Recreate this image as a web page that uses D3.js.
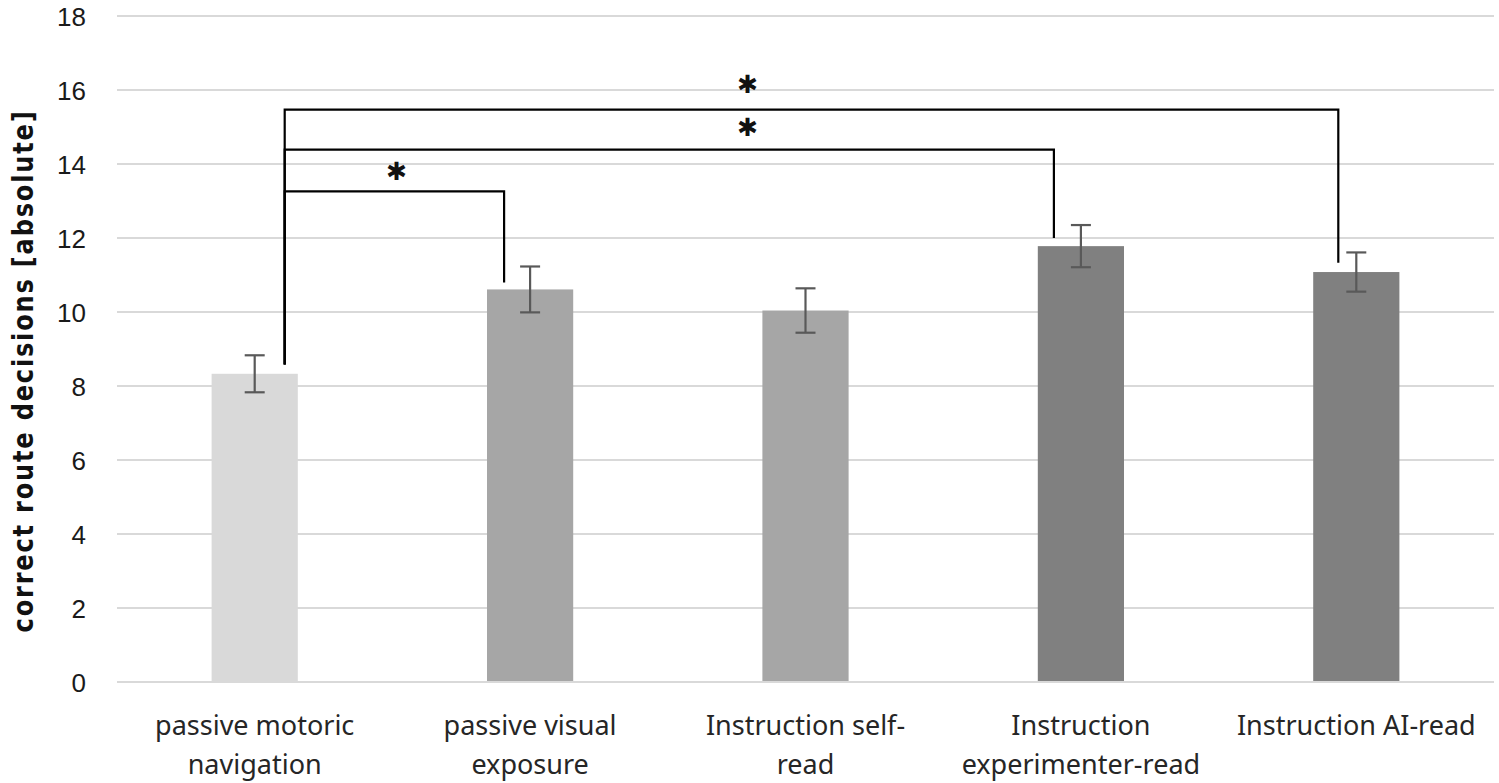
<!DOCTYPE html>
<html><head><meta charset="utf-8">
<script src="https://cdn.jsdelivr.net/npm/d3@7"></script>
<style>body{margin:0;background:#fff;}svg{display:block;}</style>
</head><body>
<svg id="chart" width="1499" height="783"></svg>
<script>
const categories = [
  ["passive motoric", "navigation"],
  ["passive visual", "exposure"],
  ["Instruction self-", "read"],
  ["Instruction", "experimenter-read"],
  ["Instruction AI-read"]
];
const means = [8.33, 10.61, 10.04, 11.78, 11.08];
const errors = [0.5, 0.62, 0.6, 0.57, 0.53];
const barColors = ["#d9d9d9", "#a6a6a6", "#a6a6a6", "#808080", "#808080"];
const yTicks = [0, 2, 4, 6, 8, 10, 12, 14, 16, 18];
// significance brackets: from category index, to category index, bracket level, left/right drop ends
const sigFrom = [0, 0, 0];
const sigTo = [1, 3, 4];
const sigLevel = [13.26, 14.39, 15.47];
const sigLeftEnd = [8.58, 8.58, 8.58];
const sigRightEnd = [10.8, 12.0, 11.33];
const sigLabel = ["✱", "✱", "✱"];

const svg = d3.select("#chart");
const mLeft = 117, mRight = 1494, mTop = 16, mBottom = 682;
const x = d3.scaleBand().domain(d3.range(categories.length)).range([mLeft, mRight]).paddingInner(0.687).paddingOuter(0.3435);
const y = d3.scaleLinear().domain([0, 18]).range([mBottom, mTop]);

// gridlines
svg.append("g").selectAll("line").data(yTicks).join("line")
  .attr("x1", mLeft).attr("x2", mRight)
  .attr("y1", d => y(d)).attr("y2", d => y(d))
  .attr("stroke", "#d9d9d9").attr("stroke-width", 2);

// y axis labels
const yAxis = d3.axisLeft(y).tickValues(yTicks).tickSize(0).tickPadding(0);
const ya = svg.append("g").attr("transform", `translate(86,0)`).call(yAxis);
ya.select(".domain").remove();
ya.selectAll("text").attr("font-family", "Liberation Sans, Arial, sans-serif").attr("font-size", 26).attr("fill", "#1a1a1a").attr("dy", "0.365em");

// bars
svg.append("g").selectAll("rect").data(means).join("rect")
  .attr("x", (d, i) => x(i)).attr("width", x.bandwidth())
  .attr("y", d => y(d)).attr("height", d => mBottom - y(d))
  .attr("fill", (d, i) => barColors[i]);

// baseline
svg.append("line").attr("x1", mLeft).attr("x2", mRight).attr("y1", mBottom).attr("y2", mBottom)
  .attr("stroke", "#d9d9d9").attr("stroke-width", 2);

// error bars
const eb = svg.append("g").attr("stroke", "#595959").attr("stroke-width", 2.2);
means.forEach((m, i) => {
  const cx = x(i) + x.bandwidth() / 2;
  eb.append("line").attr("x1", cx).attr("x2", cx).attr("y1", y(m + errors[i])).attr("y2", y(m - errors[i]));
  eb.append("line").attr("x1", cx - 10).attr("x2", cx + 10).attr("y1", y(m + errors[i])).attr("y2", y(m + errors[i]));
  eb.append("line").attr("x1", cx - 10).attr("x2", cx + 10).attr("y1", y(m - errors[i])).attr("y2", y(m - errors[i]));
});

// significance brackets
const leftOffset = 30;
const rightOffsets = [-26, -27, -18];
const labelDx = [112, 463, 463];
const labelDy = [-11, -14, -17];
const sg = svg.append("g");
sigFrom.forEach((f, k) => {
  const x1 = x(f) + x.bandwidth() / 2 + leftOffset;
  const x2 = x(sigTo[k]) + x.bandwidth() / 2 + rightOffsets[k];
  sg.append("path")
    .attr("d", `M${x1},${y(sigLeftEnd[k])}V${y(sigLevel[k])}H${x2}V${y(sigRightEnd[k])}`)
    .attr("fill", "none").attr("stroke", "#000").attr("stroke-width", 2.2);
  sg.append("text").attr("x", x1 + labelDx[k]).attr("y", y(sigLevel[k]) + labelDy[k])
    .attr("text-anchor", "middle").attr("font-family", "DejaVu Sans, sans-serif")
    .attr("font-size", 25).attr("fill", "#111").text(sigLabel[k]);
});

// x labels
const xl = svg.append("g");
categories.forEach((lines, i) => {
  const cx = x(i) + x.bandwidth() / 2;
  lines.forEach((t, j) => {
    xl.append("text").attr("x", cx).attr("y", 735 + j * 39)
      .attr("text-anchor", "middle").attr("font-family", "Noto Sans, sans-serif")
      .attr("font-size", 27).attr("fill", "#262626").text(t);
  });
});

// y title
svg.append("text").attr("transform", `translate(33,371) rotate(-90) scale(0.86,1)`)
  .attr("text-anchor", "middle").attr("font-family", "DejaVu Sans, sans-serif")
  .attr("font-weight", "bold").attr("font-size", 28).attr("letter-spacing", 2.1).attr("fill", "#111")
  .text("correct route decisions [absolute]");
</script>
</body></html>
